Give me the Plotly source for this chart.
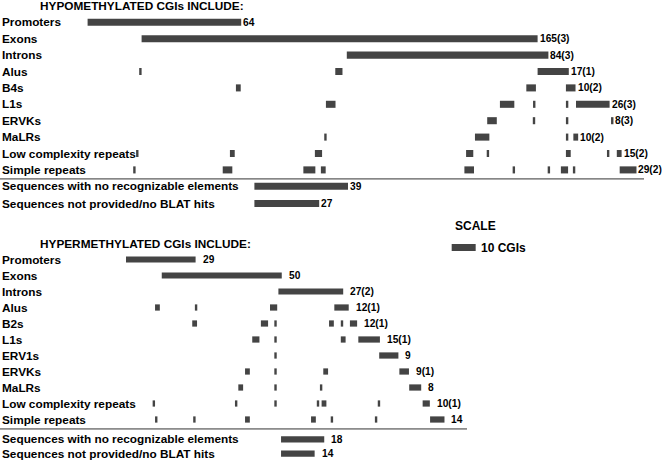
import plotly.graph_objects as go

# ---------------- data (CGI units) ----------------
hypo_rows = ["Promoters", "Exons", "Introns", "Alus", "B4s", "L1s", "ERVKs", "MaLRs",
             "Low complexity repeats", "Simple repeats"]
hypo_starts = [
    [36.5],
    [59.0],
    [144.5],
    [58.0, 139.7, 224.0],
    [98.3, 219.3, 235.8],
    [135.8, 208.3, 222.1, 235.8, 240.0],
    [203.0, 222.0, 235.8, 254.6],
    [135.1, 197.9, 235.8, 238.9],
    [56.7, 95.8, 131.2, 194.2, 202.8, 235.8, 252.9, 257.0],
    [55.5, 92.8, 126.4, 133.7, 193.5, 213.6, 228.2, 233.7, 238.7, 258.2],
]
hypo_lengths = [
    [64],
    [165],
    [84],
    [1, 3, 13],
    [2, 4, 4],
    [4, 6, 1, 1, 14],
    [4, 1, 1, 1],
    [1, 6, 1, 2],
    [1, 2, 3, 3, 1, 2, 1, 2],
    [1, 4, 5, 2, 4, 1, 1, 3, 1, 7],
]
hypo_counts = ["64", "165(3)", "84(3)", "17(1)", "10(2)", "26(3)", "8(3)", "10(2)", "15(2)", "29(2)"]

hypo_seq_rows = ["Sequences with no recognizable elements", "Sequences not provided/no BLAT hits"]
hypo_seq_starts = [106.0, 106.0]
hypo_seq_lengths = [39, 27]
hypo_seq_counts = ["39", "27"]

hyper_rows = ["Promoters", "Exons", "Introns", "Alus", "B2s", "L1s", "ERV1s", "ERVKs", "MaLRs",
              "Low complexity repeats", "Simple repeats"]
hyper_starts = [
    [52.5],
    [67.4],
    [116.0],
    [64.6, 81.2, 112.5, 139.3],
    [80.1, 108.7, 114.3, 137.1, 142.0, 145.8],
    [105.1, 114.3, 142.0, 149.3],
    [114.3, 158.0],
    [102.1, 114.3, 134.7, 166.4],
    [99.3, 114.3, 133.3, 170.5],
    [63.6, 97.9, 114.3, 132.0, 134.0, 157.4, 176.1],
    [64.6, 80.5, 102.1, 129.6, 137.8, 156.2, 179.2],
]
hyper_lengths = [
    [29],
    [50],
    [27],
    [2, 1, 3, 6],
    [2, 3, 1, 2, 1, 3],
    [3, 1, 2, 9],
    [1, 8],
    [2, 1, 2, 4],
    [2, 1, 1, 5],
    [1, 1, 1, 1, 2, 1, 3],
    [1, 1, 2, 2, 1, 1, 6],
]
hyper_counts = ["29", "50", "27(2)", "12(1)", "12(1)", "15(1)", "9", "9(1)", "8", "10(1)", "14"]

hyper_seq_rows = ["Sequences with no recognizable elements", "Sequences not provided/no BLAT hits"]
hyper_seq_starts = [117.1, 117.1]
hyper_seq_lengths = [18, 14]
hyper_seq_counts = ["18", "14"]

scale_start = 188.2
scale_length = 10
scale_label = "10 CGIs"

hypo_title = "HYPOMETHYLATED CGIs INCLUDE:"
hyper_title = "HYPERMETHYLATED CGIs INCLUDE:"
scale_title = "SCALE"

# ---------------- layout / style ----------------
W, H = 662, 461
PX_PER_CGI = 2.4
XMAX = W / PX_PER_CGI
FONT = "Liberation Sans, Arial, sans-serif"
BAR = "#444444"
LABEL_SIZE = 11.8
COUNT_SIZE = 10.2

# row slots (in row units of each panel's axis)
hypo_seq_y = [10.0, 11.05]
hypo_line_y = 9.55
hypo_title_y = -1.0
hyper_seq_y = [11.24, 12.13]
hyper_line_y = 10.59
hyper_title_y = -1.0
scale_title_y = -2.09
scale_bar_y = -0.75

fig = go.Figure()
annotations = []


def add_panel(rows, starts, lengths, counts, seq_rows, seq_starts, seq_lengths, seq_counts,
              seq_y, yaxis, bar_w, gap):
    ys, xs, bs = [], [], []
    yref = "y" if yaxis == "y" else "y2"
    for i, (st, ln) in enumerate(zip(starts, lengths)):
        for s, l in zip(st, ln):
            ys.append(i); xs.append(l); bs.append(s)
    for j, (s, l) in enumerate(zip(seq_starts, seq_lengths)):
        ys.append(seq_y[j]); xs.append(l); bs.append(s)
    fig.add_trace(go.Bar(orientation="h", y=ys, x=xs, base=bs, width=bar_w,
                         marker=dict(color=BAR, line=dict(width=0)),
                         xaxis="x", yaxis=yaxis, hoverinfo="skip"))
    all_rows = list(rows) + list(seq_rows)
    all_y = list(range(len(rows))) + list(seq_y)
    all_counts = list(counts) + list(seq_counts)
    all_ends = [max(s + l for s, l in zip(st, ln)) for st, ln in zip(starts, lengths)] + \
               [s + l for s, l in zip(seq_starts, seq_lengths)]
    for name, y, c, e in zip(all_rows, all_y, all_counts, all_ends):
        annotations.append(dict(x=0, xref="paper", y=y, yref=yref, text=f"<b>{name}</b>",
                                xanchor="left", yanchor="middle", showarrow=False, xshift=0,
                                font=dict(family=FONT, size=LABEL_SIZE, color="black")))
        annotations.append(dict(x=e, xref="x", y=y, yref=yref, text=f"<b>{c}</b>",
                                xanchor="left", yanchor="middle", showarrow=False, xshift=gap,
                                font=dict(family=FONT, size=COUNT_SIZE, color="black")))


add_panel(hypo_rows, hypo_starts, hypo_lengths, hypo_counts, hypo_seq_rows, hypo_seq_starts,
          hypo_seq_lengths, hypo_seq_counts, hypo_seq_y, "y", 0.43, 0)
add_panel(hyper_rows, hyper_starts, hyper_lengths, hyper_counts, hyper_seq_rows, hyper_seq_starts,
          hyper_seq_lengths, hyper_seq_counts, hyper_seq_y, "y2", 0.39, 5)

# scale bar
fig.add_trace(go.Bar(orientation="h", y=[scale_bar_y], x=[scale_length], base=[scale_start],
                     width=0.44, marker=dict(color=BAR, line=dict(width=0)),
                     xaxis="x", yaxis="y2", hoverinfo="skip"))
annotations.append(dict(x=scale_start + scale_length, xref="x", y=scale_bar_y, yref="y2",
                        text=f"<b>{scale_label}</b>", xanchor="left", yanchor="middle",
                        showarrow=False, xshift=3,
                        font=dict(family=FONT, size=12, color="black")))
annotations.append(dict(x=453 / PX_PER_CGI, xref="x", y=scale_title_y, yref="y2",
                        text=f"<b>{scale_title}</b>", xanchor="left", yanchor="middle",
                        showarrow=False, font=dict(family=FONT, size=12, color="black")))

# titles
annotations.append(dict(x=38 / PX_PER_CGI, xref="x", y=hypo_title_y, yref="y",
                        text=f"<b>{hypo_title}</b>", xanchor="left", yanchor="middle",
                        showarrow=False, font=dict(family=FONT, size=11.8, color="black")))
annotations.append(dict(x=38 / PX_PER_CGI, xref="x", y=hyper_title_y, yref="y2",
                        text=f"<b>{hyper_title}</b>", xanchor="left", yanchor="middle",
                        showarrow=False, font=dict(family=FONT, size=11.8, color="black")))

shapes = [
    dict(type="line", xref="x", yref="y", x0=0, x1=644 / PX_PER_CGI, y0=hypo_line_y, y1=hypo_line_y,
         line=dict(color="#333333", width=1)),
    dict(type="line", xref="x", yref="y2", x0=0, x1=467 / PX_PER_CGI, y0=hyper_line_y, y1=hyper_line_y,
         line=dict(color="#333333", width=1)),
]

fig.update_layout(
    width=W, height=H, margin=dict(l=0, r=0, t=0, b=0),
    paper_bgcolor="white", plot_bgcolor="white", showlegend=False, barmode="overlay",
    xaxis=dict(range=[0, XMAX], visible=False, fixedrange=True),
    yaxis=dict(range=[(H - 22.3) / 16.4, -22.3 / 16.4], visible=False),
    yaxis2=dict(range=[(H - 259.5) / 16.0, -259.5 / 16.0], visible=False, overlaying="y"),
    annotations=annotations, shapes=shapes,
)

fig.write_html("out.html", config={"displayModeBar": False},
               post_script="document.body.style.margin='0';document.body.style.overflow='hidden';")
